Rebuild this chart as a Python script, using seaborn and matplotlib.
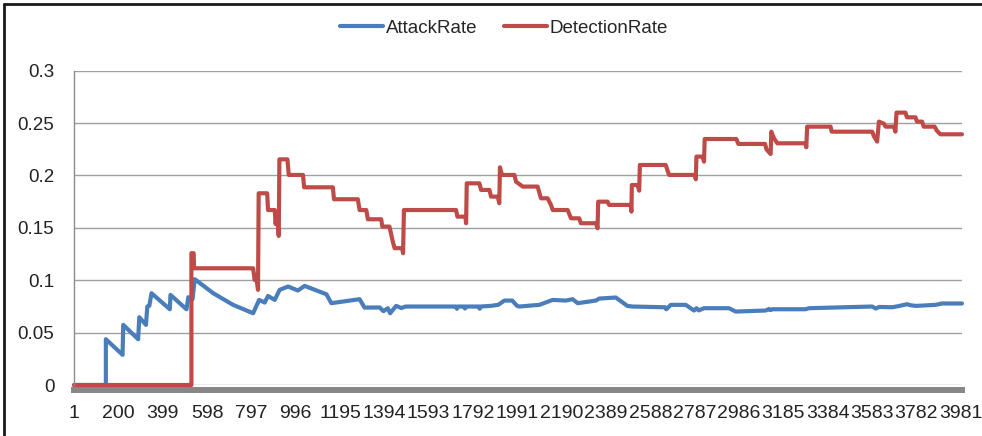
import matplotlib
matplotlib.use("Agg")
import matplotlib.pyplot as plt
import seaborn as sns
from matplotlib.lines import Line2D
from matplotlib.ticker import FixedLocator, FuncFormatter

# sample index / rate
attack_x = [1, 144, 144, 219, 222, 289, 294, 324, 330, 339, 349, 431, 434, 506, 514, 533, 543,
            626, 715, 805, 832, 857, 872, 902, 924, 962, 1006, 1036, 1134, 1156, 1283, 1305,
            1373, 1390, 1410, 1420, 1447, 1470, 1490, 1716, 1720, 1725, 1752, 1756, 1760, 1818,
            1822, 1826, 1870, 1905, 1933, 1968, 1990, 2000, 2090, 2149, 2209, 2239, 2262, 2344,
            2358, 2433, 2485, 2508, 2655, 2660, 2680, 2747, 2784, 2795, 2805, 2829, 2941, 2971,
            3106, 3120, 3128, 3135, 3285, 3300, 3404, 3584, 3600, 3615, 3673, 3700, 3740, 3760,
            3780, 3808, 3868, 3897, 3987]
attack_y = [0.0, 0.0, 0.0437, 0.0288, 0.0574, 0.0437, 0.0647, 0.0574, 0.0749, 0.0755, 0.0876,
            0.0723, 0.0860, 0.0723, 0.0838, 0.0819, 0.1010, 0.0876, 0.0765, 0.0685, 0.0812,
            0.0787, 0.0850, 0.0812, 0.0908, 0.0940, 0.0902, 0.0946, 0.0866, 0.0781, 0.0819,
            0.0739, 0.0740, 0.0705, 0.0733, 0.0685, 0.0755, 0.0735, 0.0749, 0.0749, 0.0728,
            0.0749, 0.0749, 0.0730, 0.0749, 0.0749, 0.0728, 0.0749, 0.0755, 0.0765, 0.0806,
            0.0806, 0.0755, 0.0749, 0.0765, 0.0812, 0.0806, 0.0819, 0.0781, 0.0806, 0.0825,
            0.0835, 0.0755, 0.0749, 0.0742, 0.0723, 0.0765, 0.0765, 0.0711, 0.0733, 0.0712,
            0.0733, 0.0733, 0.0701, 0.0711, 0.0725, 0.0715, 0.0723, 0.0723, 0.0733, 0.0739,
            0.0749, 0.0730, 0.0745, 0.0742, 0.0752, 0.0771, 0.0760, 0.0755, 0.0758, 0.0765,
            0.0778, 0.0778]

detect_x = [1, 528, 528, 538, 540, 805, 812, 818, 827, 830, 868, 872, 902, 906, 912, 920, 923,
            959, 965, 1029, 1034, 1163, 1168, 1275, 1283, 1313, 1320, 1380, 1385, 1417, 1432,
            1440, 1474, 1478, 1482, 1716, 1722, 1758, 1761, 1764, 1821, 1828, 1866, 1873, 1903,
            1910, 1913, 1922, 1978, 1985, 2015, 2082, 2097, 2127, 2142, 2150, 2217, 2232, 2269,
            2276, 2344, 2351, 2354, 2396, 2403, 2500, 2503, 2505, 2530, 2538, 2541, 2657, 2672,
            2789, 2792, 2795, 2822, 2829, 2832, 2974, 2983, 3103, 3109, 3128, 3131, 3143, 3158,
            3285, 3288, 3292, 3397, 3402, 3584, 3591, 3606, 3614, 3636, 3644, 3681, 3688, 3693,
            3733, 3740, 3778, 3785, 3808, 3815, 3864, 3874, 3890, 3987]
detect_y = [0.0, 0.0, 0.1258, 0.1258, 0.1114, 0.1114, 0.1003, 0.1050, 0.0908, 0.1830, 0.1830,
            0.1670, 0.1670, 0.1537, 0.1639, 0.1423, 0.2154, 0.2154, 0.2005, 0.2005, 0.1887,
            0.1887, 0.1773, 0.1773, 0.1670, 0.1670, 0.1582, 0.1582, 0.1512, 0.1512, 0.1369,
            0.1306, 0.1306, 0.1258, 0.1670, 0.1670, 0.1607, 0.1607, 0.1544, 0.1925, 0.1925,
            0.1862, 0.1862, 0.1798, 0.1798, 0.1735, 0.2078, 0.2005, 0.2005, 0.1941, 0.1894,
            0.1894, 0.1782, 0.1782, 0.1719, 0.1670, 0.1670, 0.1591, 0.1591, 0.1544, 0.1544,
            0.1496, 0.1750, 0.1750, 0.1719, 0.1719, 0.1655, 0.1909, 0.1909, 0.1855, 0.2100,
            0.2100, 0.2005, 0.2005, 0.1964, 0.2180, 0.2180, 0.2132, 0.2348, 0.2348, 0.2301,
            0.2301, 0.2250, 0.2205, 0.2418, 0.2355, 0.2307, 0.2307, 0.2269, 0.2466, 0.2466,
            0.2418, 0.2418, 0.2377, 0.2323, 0.2514, 0.2495, 0.2466, 0.2466, 0.2418, 0.2600,
            0.2600, 0.2555, 0.2555, 0.2514, 0.2514, 0.2466, 0.2466, 0.2428, 0.2393, 0.2393]

x_ticks = [1, 200, 399, 598, 797, 996, 1195, 1394, 1593, 1792, 1991, 2190, 2389, 2588, 2787,
           2986, 3185, 3384, 3583, 3782, 3981]
y_ticks = [0, 0.05, 0.1, 0.15, 0.2, 0.25, 0.3]

sns.set_style("white")
plt.rcParams['font.family'] = ['Liberation Sans', 'DejaVu Sans']

fig = plt.figure(figsize=(9.82, 4.36), dpi=100)
ax = fig.add_axes([74 / 982, 1 - 385 / 436, 888 / 982, 314.3 / 436])

blue = '#4A7EBB'
red = '#BE4B48'
sns.lineplot(x=attack_x, y=attack_y, sort=False, estimator=None, color=blue, lw=3,
             label='AttackRate', ax=ax, clip_on=False)
sns.lineplot(x=detect_x, y=detect_y, sort=False, estimator=None, color=red, lw=3,
             label='DetectionRate', ax=ax, clip_on=False)

ax.set_xlim(1, 3987)
ax.set_ylim(0, 0.3)
ax.xaxis.set_major_locator(FixedLocator(x_ticks))
ax.yaxis.set_major_locator(FixedLocator(y_ticks))
ax.yaxis.set_major_formatter(FuncFormatter(lambda v, p: f"{v:g}"))

ax.grid(axis='y', color='#a0a0a0', lw=1.0)
ax.set_axisbelow(True)
for s in ['top', 'right']:
    ax.spines[s].set_visible(False)
ax.spines['left'].set_color('#8c8c8c')
ax.spines['left'].set_linewidth(1.0)
ax.spines['bottom'].set_color('#878787')
ax.spines['bottom'].set_linewidth(4.3)
ax.spines['bottom'].set_position(('outward', 3.6))
ax.spines['bottom'].set_zorder(0.5)

ax.tick_params(axis='y', length=5.2, width=1.0, color='#8c8c8c', pad=9,
               labelsize=13.5, labelcolor='#222222')
ax.tick_params(axis='x', length=0, pad=11, labelsize=14, labelcolor='#222222')
ax.set_xlabel('')
ax.set_ylabel('')

handles, labels = ax.get_legend_handles_labels()
ax.get_legend().remove()
fig.legend(handles, labels, loc='center', bbox_to_anchor=(504 / 982, 1 - 28 / 436), ncol=2,
           frameon=False, fontsize=13.5, handlelength=2.3, handletextpad=0.15,
           columnspacing=1.4)

# outer chart frame (left and top edges visible)
fig.add_artist(Line2D([4 / 982, 4 / 982], [0, 1 - 4 / 436], transform=fig.transFigure,
                      color='#1a1a1a', lw=2))
fig.add_artist(Line2D([4 / 982, 1], [1 - 4 / 436, 1 - 4 / 436], transform=fig.transFigure,
                      color='#1a1a1a', lw=2))

fig.savefig('out.png', dpi=100)
